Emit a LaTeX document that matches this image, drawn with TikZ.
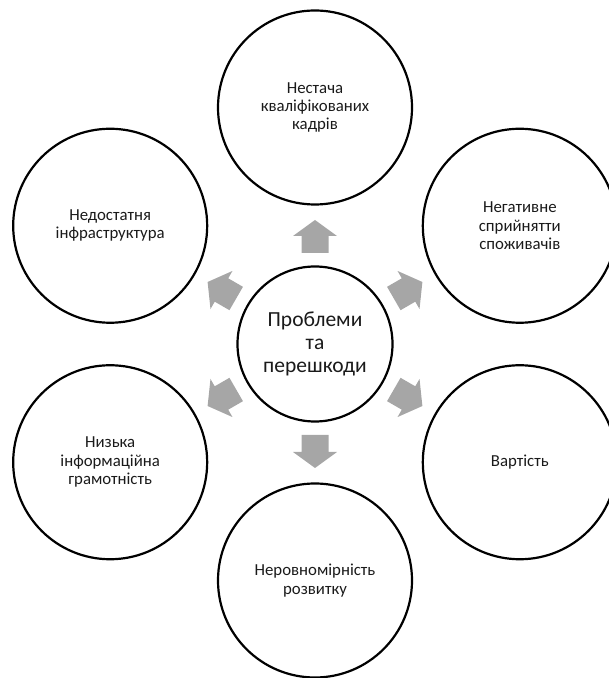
\documentclass[tikz,border=0pt]{standalone}
\usepackage{fontspec}
\setmainfont{Carlito}
\usetikzlibrary{calc}
\definecolor{arrowgray}{HTML}{A6A6A6}
\definecolor{inkdark}{HTML}{1A1A1A}
\begin{document}
\begin{tikzpicture}[x=1pt,y=1pt,
  bubble/.style={circle, draw=black, line width=2.2pt, minimum size=194pt,
    inner sep=0pt, align=center, text=inkdark,
    font=\fontsize{16.8}{18.4}\selectfont},
  hub/.style={circle, draw=black, line width=2.2pt, minimum size=155pt,
    inner sep=0pt, align=center, text=inkdark,
    font=\fontsize{21.5}{23.4}\selectfont},
  blockarrow/.style={fill=arrowgray, draw=none}]
  \useasboundingbox (0,0) rectangle (609,678);
  \clip (0,0) rectangle (609,678);

  % central topic
  \node[hub] (c) at (315,334) {Проблеми\\та\\перешкоди};

  % surrounding problems, spaced every 60 degrees
  \node[bubble] (t)  at ($(c)+(90:236.5)$)  {Нестача\\кваліфікованих\\кадрів};
  \node[bubble] (ur) at ($(c)+(30:236.5)$)  {Негативне\\сприйнятти\\споживачів};
  \node[bubble] (lr) at ($(c)+(-30:236.5)$) {Вартість};
  \node[bubble] (b)  at ($(c)+(-90:236.5)$) {Неровномірність\\розвитку};
  \node[bubble] (ll) at ($(c)+(-150:236.5)$) {Низька\\інформаційна\\грамотність};
  \node[bubble] (ul) at ($(c)+(150:236.5)$) {Недостатня\\інфраструктура};

  % block arrows pointing from the hub to each bubble
  \foreach \n/\a in {t/90, ur/30, lr/-30, b/-90, ll/-150, ul/150}{
    \fill[blockarrow, shift={($(c.center)!107.5pt!(\n.center)$)}, rotate=\a]
      (-16.5,-13.5) -- (0.5,-13.5) -- (0.5,-22) -- (16.5,0)
      -- (0.5,22) -- (0.5,13.5) -- (-16.5,13.5) -- cycle;
  }
\end{tikzpicture}
\end{document}
